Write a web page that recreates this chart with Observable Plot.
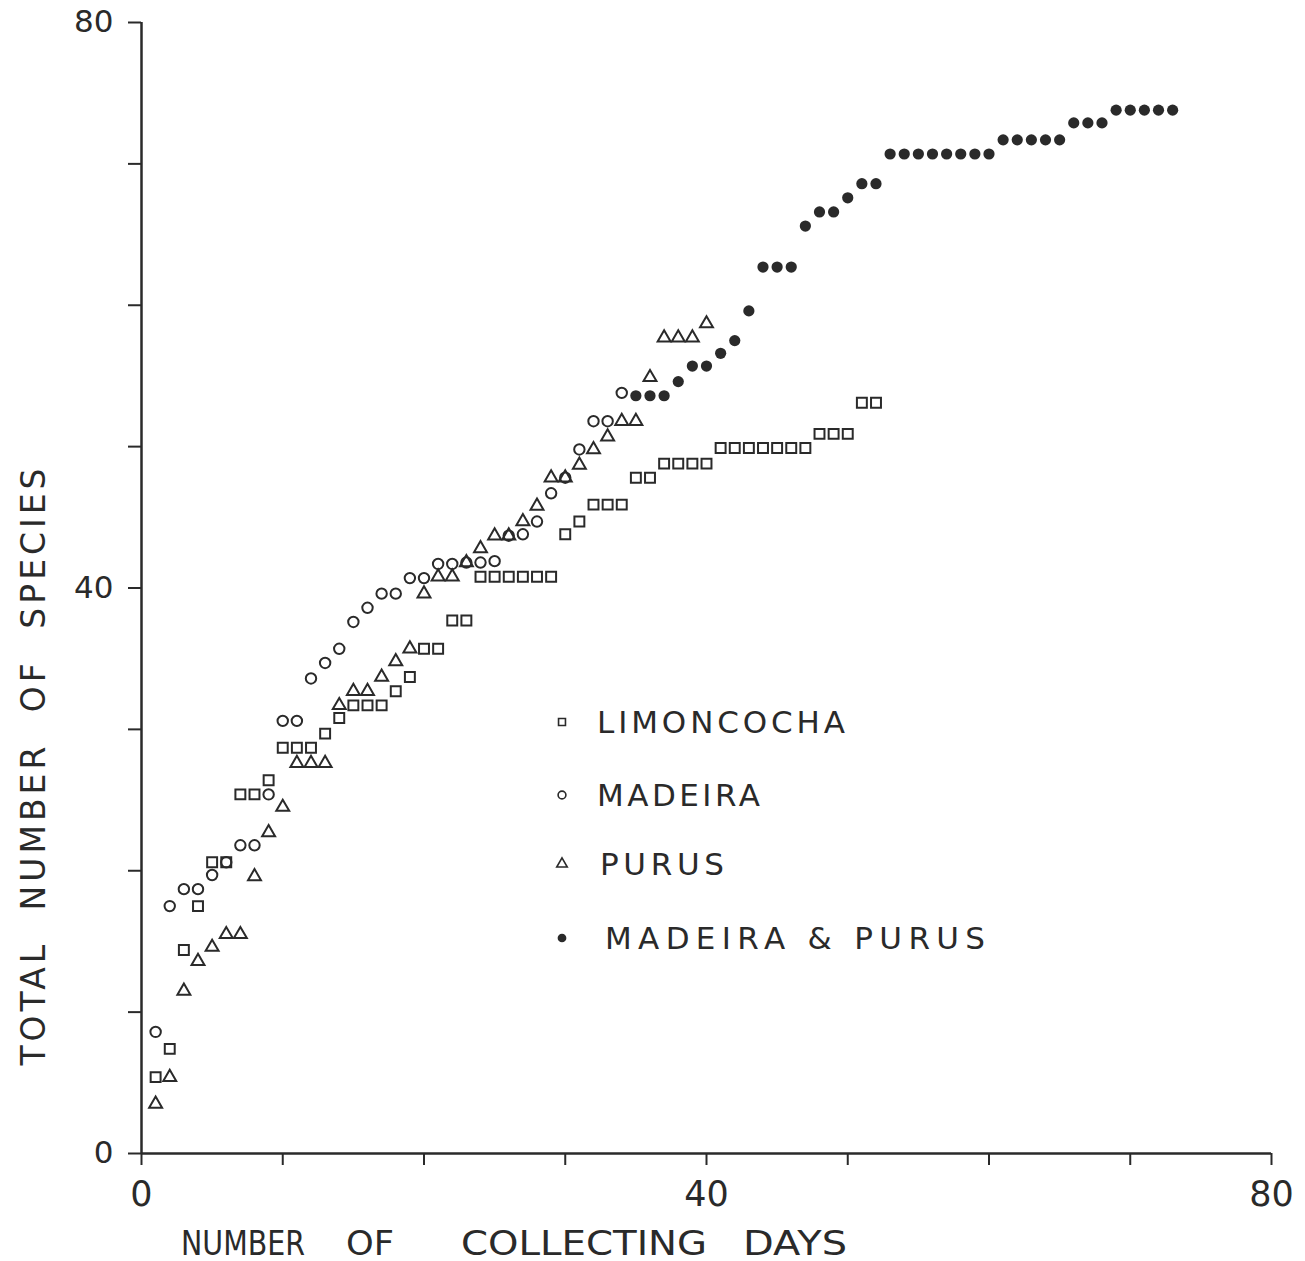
<!DOCTYPE html>
<html>
<head>
<meta charset="utf-8">
<script src="https://cdn.jsdelivr.net/npm/d3@7"></script>
<script src="https://cdn.jsdelivr.net/npm/@observablehq/plot@0.6"></script>
<style>
  html, body { margin: 0; padding: 0; background: #ffffff; }
  #chart { width: 1305px; height: 1261px; position: relative; }
</style>
</head>
<body>
<div id="chart"></div>
<script>
// ---------- data ----------
const limoncochaDays = [1,2,3,4,5,6,7,8,9,10,11,12,13,14,15,16,17,18,19,20,21,22,23,24,25,26,27,28,29,30,31,32,33,34,35,36,37,38,39,40,41,42,43,44,45,46,47,48,49,50,51,52];
const limoncochaSpecies = [5.4,7.4,14.4,17.5,20.6,20.6,25.4,25.4,26.4,28.7,28.7,28.7,29.7,30.8,31.7,31.7,31.7,32.7,33.7,35.7,35.7,37.7,37.7,40.8,40.8,40.8,40.8,40.8,40.8,43.8,44.7,45.9,45.9,45.9,47.8,47.8,48.8,48.8,48.8,48.8,49.9,49.9,49.9,49.9,49.9,49.9,49.9,50.9,50.9,50.9,53.1,53.1];

const madeiraDays = [1,2,3,4,5,6,7,8,9,10,11,12,13,14,15,16,17,18,19,20,21,22,23,24,25,26,27,28,29,30,31,32,33,34];
const madeiraSpecies = [8.6,17.5,18.7,18.7,19.7,20.6,21.8,21.8,25.4,30.6,30.6,33.6,34.7,35.7,37.6,38.6,39.6,39.6,40.7,40.7,41.7,41.7,41.8,41.8,41.9,43.7,43.8,44.7,46.7,47.8,49.8,51.8,51.8,53.8];

const purusDays = [1,2,3,4,5,6,7,8,9,10,11,12,13,14,15,16,17,18,19,20,21,22,23,24,25,26,27,28,29,30,31,32,33,34,35,36,37,38,39,40];
const purusSpecies = [3.5,5.4,11.5,13.6,14.6,15.5,15.5,19.6,22.7,24.5,27.6,27.6,27.6,31.7,32.7,32.7,33.7,34.8,35.7,39.6,40.8,40.8,41.8,42.8,43.7,43.7,44.7,45.8,47.8,47.8,48.7,49.8,50.7,51.8,51.8,54.9,57.7,57.7,57.7,58.7];

const combinedDays = [35,36,37,38,39,40,41,42,43,44,45,46,47,48,49,50,51,52,53,54,55,56,57,58,59,60,61,62,63,64,65,66,67,68,69,70,71,72,73];
const combinedSpecies = [53.6,53.6,53.6,54.6,55.7,55.7,56.6,57.5,59.6,62.7,62.7,62.7,65.6,66.6,66.6,67.6,68.6,68.6,70.7,70.7,70.7,70.7,70.7,70.7,70.7,70.7,71.7,71.7,71.7,71.7,71.7,72.9,72.9,72.9,73.8,73.8,73.8,73.8,73.8];

const seriesNames = ["LIMONCOCHA", "MADEIRA", "PURUS", "MADEIRA & PURUS"];
const xTicks = [0,10,20,30,40,50,60,70,80];
const yTicks = [0,10,20,30,40,50,60,70,80];
const labelledTicks = [0,40,80];
const xTitle = "NUMBER OF COLLECTING DAYS";
const yTitle = "TOTAL NUMBER OF SPECIES";

// ---------- build tables ----------
const zip = (xs, ys) => xs.map((d, i) => ({day: d, species: ys[i]}));
const limoncocha = zip(limoncochaDays, limoncochaSpecies);
const madeira = zip(madeiraDays, madeiraSpecies);
const purus = zip(purusDays, purusSpecies);
const combined = zip(combinedDays, combinedSpecies);

const ink = "#2a2a2a";
const font = "DejaVu Sans";

const chart = Plot.plot({
  width: 1305,
  height: 1261,
  marginLeft: 141,
  marginRight: 34,
  marginTop: 22,
  marginBottom: 108,
  style: {fontFamily: font, color: ink, background: "#ffffff", overflow: "visible"},
  x: {domain: [0, 80]},
  y: {domain: [0, 80]},
  marks: [
    Plot.axisX({ticks: xTicks, tickSize: 12, tickPadding: 16, strokeWidth: 2,
      tickFormat: d => labelledTicks.includes(d) ? String(d) : "", fontSize: 35, label: null}),
    Plot.axisY({ticks: yTicks, tickSize: 13, tickPadding: 15, strokeWidth: 2,
      tickFormat: d => labelledTicks.includes(d) ? String(d) : "", fontSize: 31, label: null}),
    Plot.ruleY([0], {stroke: ink, strokeWidth: 2.5}),
    Plot.ruleX([0], {stroke: ink, strokeWidth: 2.5}),
    Plot.dot(limoncocha, {x: "day", y: "species", symbol: "square", r: 5.6, stroke: ink, strokeWidth: 2, fill: "none"}),
    Plot.dot(madeira, {x: "day", y: "species", symbol: "circle", r: 5.2, stroke: ink, strokeWidth: 2, fill: "none"}),
    Plot.dot(purus, {x: "day", y: "species", symbol: "triangle", r: 4.8, stroke: ink, strokeWidth: 2, fill: "none"}),
    Plot.dot(combined, {x: "day", y: "species", symbol: "circle", r: 5.6, fill: ink, stroke: "none"})
  ]
});

const host = document.getElementById("chart");
host.appendChild(chart);

const svg = d3.select(chart);

// x-axis title: one text per word, each fitted to the reference's word extent
const xTitleWords = xTitle.split(" ");
const xWordStart = [181, 346, 461, 743];
const xWordWidth = [124, 48, 246, 104];
xTitleWords.forEach((w, i) => {
  svg.append("text")
    .attr("x", xWordStart[i]).attr("y", 1255)
    .attr("text-anchor", "start")
    .attr("font-family", font)
    .attr("font-size", 34)
    .attr("textLength", xWordWidth[i])
    .attr("lengthAdjust", "spacingAndGlyphs")
    .attr("fill", ink)
    .text(w);
});

// y-axis title
svg.append("text")
  .attr("transform", "translate(45,765) rotate(-90)")
  .attr("text-anchor", "middle")
  .attr("font-family", font)
  .attr("font-size", 33)
  .attr("letter-spacing", 4)
  .attr("word-spacing", 16)
  .attr("fill", ink)
  .text(yTitle);

// legend
const legendSymbols = [d3.symbolSquare, d3.symbolCircle, d3.symbolTriangle, d3.symbolCircle];
const legendFilled = [false, false, false, true];
const legendRowY = [722, 795, 864, 938];
const legendTextX = [597, 597, 600, 605];
const legendTextWidth = [248, 163, 124, 380];
const lg = svg.append("g");
seriesNames.forEach((name, i) => {
  lg.append("path")
    .attr("transform", `translate(562,${legendRowY[i]})`)
    .attr("d", d3.symbol(legendSymbols[i], legendFilled[i] ? 60 : 48)())
    .attr("fill", legendFilled[i] ? ink : "none")
    .attr("stroke", legendFilled[i] ? "none" : ink)
    .attr("stroke-width", 1.6);
  lg.append("text")
    .attr("x", legendTextX[i]).attr("y", legendRowY[i])
    .attr("dy", "0.36em")
    .attr("text-anchor", "start")
    .attr("font-family", font)
    .attr("font-size", 31)
    .attr("textLength", legendTextWidth[i])
    .attr("lengthAdjust", "spacing")
    .attr("fill", ink)
    .text(name);
});
</script>
</body>
</html>
